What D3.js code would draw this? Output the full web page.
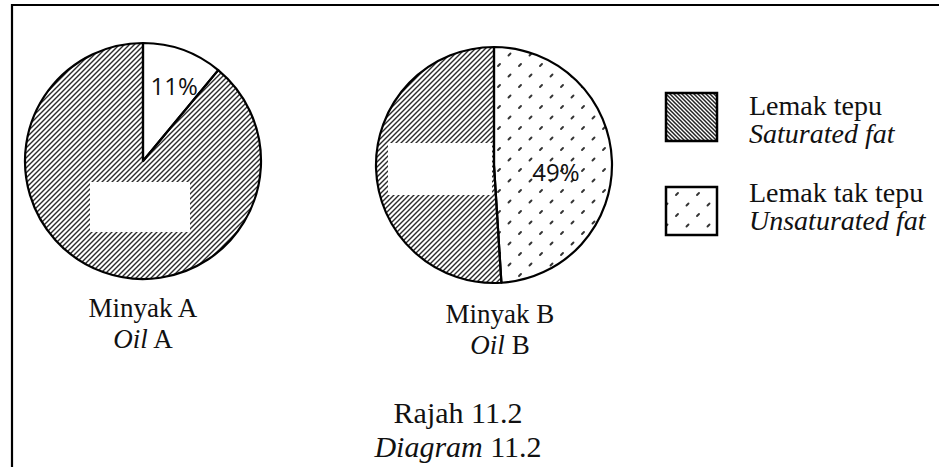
<!DOCTYPE html>
<html>
<head>
<meta charset="utf-8">
<script src="https://cdn.jsdelivr.net/npm/d3@7/dist/d3.min.js"></script>
<style>
  html, body { margin: 0; padding: 0; background: #fff; }
  svg { display: block; }
  .serif { font-family: "Liberation Serif", "Times New Roman", serif; fill: #111; }
  .sans { font-family: "Open Sans", "Noto Sans", sans-serif; fill: #111; }
</style>
</head>
<body>
<svg id="chart" width="939" height="467"></svg>
<script>
// Fat composition of the two oils (percent)
const oils = ["Minyak A", "Minyak B"];
const oilsEn = ["A", "B"];
const fatTypes = ["Lemak tak tepu", "Lemak tepu"];
const fatTypesEn = ["Unsaturated fat", "Saturated fat"];
const unsaturated = [11, 49];
const saturated = [89, 51];
const shownLabels = ["11%", "49%"];
const caption = ["Rajah 11.2", "Diagram 11.2"];

const svg = d3.select("#chart");
const defs = svg.append("defs");

// Diagonal hatch used for saturated fat inside the pies
const hatch = defs.append("pattern")
  .attr("id", "hatch").attr("patternUnits", "userSpaceOnUse")
  .attr("width", 5).attr("height", 5);
hatch.append("path")
  .attr("d", "M-1,1 l2,-2 M0,5 l5,-5 M4,6 l2,-2")
  .attr("stroke", "#2a2a2a").attr("stroke-width", 1.4);

// Denser back-slash hatch for the legend key
const hatchKey = defs.append("pattern")
  .attr("id", "hatchKey").attr("patternUnits", "userSpaceOnUse")
  .attr("width", 4).attr("height", 4);
hatchKey.append("path")
  .attr("d", "M-1,3 l2,2 M0,0 l4,4 M3,-1 l2,2")
  .attr("stroke", "#222").attr("stroke-width", 1.5);

// Sparse staggered dots for unsaturated fat
const dots = defs.append("pattern")
  .attr("id", "dots").attr("patternUnits", "userSpaceOnUse")
  .attr("width", 21).attr("height", 21);
[[5, 5], [15.5, 15.5]].forEach(([x, y]) => {
  dots.append("path")
    .attr("d", `M${x - 1},${y + 1} L${x + 1},${y - 1}`)
    .attr("stroke", "#333").attr("stroke-width", 1.9).attr("stroke-linecap", "round");
});

// Frame
svg.append("path")
  .attr("d", "M12,475 L12,5 L945,5")
  .attr("fill", "none").attr("stroke", "#000").attr("stroke-width", 2.2);

const radius = 118;
const centers = [[143, 161], [494, 165]];
const fills = [["#fff", "url(#hatch)"], ["url(#dots)", "url(#hatch)"]];

const pie = d3.pie().sort(null).value(d => d.value).startAngle(0).endAngle(2 * Math.PI);
const arc = d3.arc().innerRadius(0).outerRadius(radius);

oils.forEach((oil, i) => {
  const data = [
    { type: fatTypes[0], value: unsaturated[i] },
    { type: fatTypes[1], value: saturated[i] }
  ];
  const g = svg.append("g").attr("transform", `translate(${centers[i]})`);
  const arcs = pie(data);
  g.selectAll("path.slice").data(arcs).join("path")
    .attr("class", "slice")
    .attr("d", arc)
    .attr("fill", (d, j) => fills[i][j])
    .attr("stroke", "#000").attr("stroke-width", 2.2).attr("stroke-linejoin", "round");

  // value label for the unsaturated slice
  const labelArc = d3.arc().innerRadius(i === 0 ? 80 : 62).outerRadius(i === 0 ? 80 : 62);
  const [lx, ly] = labelArc.centroid(arcs[0]);
  g.append("text").attr("class", "sans")
    .attr("x", lx + (i === 0 ? 4 : 0)).attr("y", ly + (i === 0 ? 9 : 18))
    .attr("text-anchor", "middle").attr("font-size", 24)
    .text(shownLabels[i]);

  // oil name below the pie
  const nx = i === 0 ? 143 : 500;
  const ny = i === 0 ? 317 : 323;
  svg.append("text").attr("class", "serif")
    .attr("x", nx).attr("y", ny).attr("text-anchor", "middle").attr("font-size", 27)
    .text(oil);
  const t = svg.append("text").attr("class", "serif")
    .attr("x", nx).attr("y", ny + 31).attr("text-anchor", "middle").attr("font-size", 27);
  t.append("tspan").attr("font-style", "italic").text("Oil");
  t.append("tspan").text(" " + oilsEn[i]);
});

// Blank label boxes on the hatched areas
[[90, 182, 100, 50], [388, 143, 104, 52]].forEach(([x, y, w, h]) => {
  svg.append("rect").attr("x", x).attr("y", y).attr("width", w).attr("height", h).attr("fill", "#fff");
});

// Legend
const legend = svg.append("g");
const keys = [
  { fill: "url(#hatchKey)", ms: fatTypes[1], en: fatTypesEn[1], y: 93, ty: 115 },
  { fill: "url(#dots)", ms: fatTypes[0], en: fatTypesEn[0], y: 187, ty: 202 }
];
keys.forEach(k => {
  legend.append("rect")
    .attr("x", 666).attr("y", k.y).attr("width", 51).attr("height", 48)
    .attr("fill", k.fill).attr("stroke", "#000").attr("stroke-width", 2.5);
  legend.append("text").attr("class", "serif")
    .attr("x", 749).attr("y", k.ty).attr("font-size", 28).text(k.ms);
  legend.append("text").attr("class", "serif")
    .attr("x", 749).attr("y", k.ty + 28).attr("font-size", 28).attr("font-style", "italic").text(k.en);
});

// Caption
svg.append("text").attr("class", "serif")
  .attr("x", 458).attr("y", 423).attr("text-anchor", "middle").attr("font-size", 30)
  .text(caption[0]);
const cap = svg.append("text").attr("class", "serif")
  .attr("x", 458).attr("y", 457).attr("text-anchor", "middle").attr("font-size", 30);
cap.append("tspan").attr("font-style", "italic").text("Diagram");
cap.append("tspan").text(" 11.2");
</script>
</body>
</html>
